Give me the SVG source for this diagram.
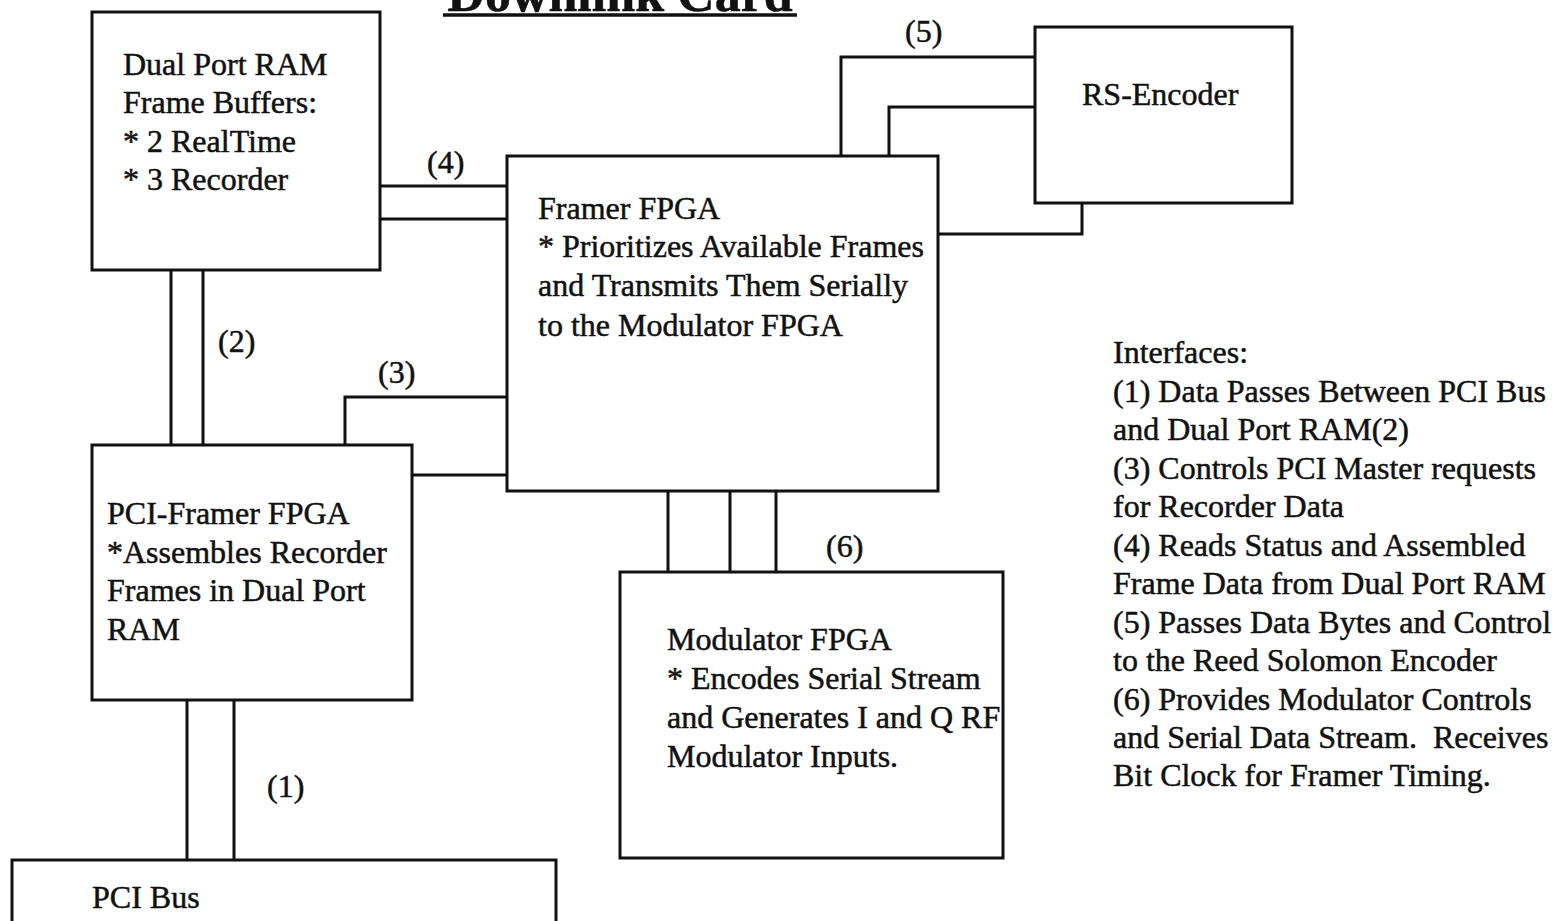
<svg xmlns="http://www.w3.org/2000/svg" width="1557" height="921" viewBox="0 0 1557 921">
<style>
.box{fill:none;stroke:#111;stroke-width:3}
.ln{fill:none;stroke:#111;stroke-width:3}
text{font-family:"Liberation Serif","Times New Roman",serif;fill:#111;font-size:32px;stroke:#111;stroke-width:0.5}
.title{font-size:52px;font-weight:bold}
</style>
<rect width="1557" height="921" fill="#fff"/>
<g id="title">
<text class="title" x="620" y="11" text-anchor="middle">Downlink Card</text>
<line x1="443" y1="15" x2="797" y2="15" stroke="#111" stroke-width="3.5"/>
</g>
<g id="connectors">
<path class="ln" d="M380,186 H507 M380,219 H507"/>
<path class="ln" d="M171,270 V445 M203,270 V445"/>
<path class="ln" d="M345,445 V397 H507 M412,475 H507"/>
<path class="ln" d="M841,156 V57 H1035 M889,156 V107 H1035 M938,234 H1082 V203"/>
<path class="ln" d="M187,700 V860 M234,700 V860"/>
<path class="ln" d="M668,491 V572 M730,491 V572 M776,491 V572"/>
<text x="427" y="173">(4)</text>
<text x="218" y="352">(2)</text>
<text x="378" y="383">(3)</text>
<text x="905" y="42">(5)</text>
<text x="267" y="797">(1)</text>
<text x="826" y="557">(6)</text>
</g>
<g id="dualport">
<rect class="box" x="92" y="12" width="288" height="258"/>
<text x="123" y="75">Dual Port RAM</text>
<text x="123" y="113">Frame Buffers:</text>
<text x="123" y="152">* 2 RealTime</text>
<text x="123" y="190">* 3 Recorder</text>
</g>
<g id="framer">
<rect class="box" x="507" y="156" width="431" height="335"/>
<text x="538" y="219">Framer FPGA</text>
<text x="538" y="257">* Prioritizes Available Frames</text>
<text x="538" y="296">and Transmits Them Serially</text>
<text x="538" y="336">to the Modulator FPGA</text>
</g>
<g id="rsencoder">
<rect class="box" x="1035" y="27" width="257" height="176"/>
<text x="1082" y="105">RS-Encoder</text>
</g>
<g id="pciframer">
<rect class="box" x="92" y="445" width="320" height="255"/>
<text x="107" y="524">PCI-Framer FPGA</text>
<text x="107" y="563">*Assembles Recorder</text>
<text x="107" y="601">Frames in Dual Port</text>
<text x="107" y="640">RAM</text>
</g>
<g id="modulator">
<rect class="box" x="620" y="572" width="383" height="286"/>
<text x="667" y="650">Modulator FPGA</text>
<text x="667" y="689">* Encodes Serial Stream</text>
<text x="667" y="728">and Generates I and Q RF</text>
<text x="667" y="767">Modulator Inputs.</text>
</g>
<g id="pcibus">
<rect class="box" x="12" y="860" width="544" height="80"/>
<text x="92" y="908">PCI Bus</text>
</g>
<g id="interfaces">
<text x="1113" y="363">Interfaces:</text>
<text x="1113" y="402">(1) Data Passes Between PCI Bus</text>
<text x="1113" y="440">and Dual Port RAM(2)</text>
<text x="1113" y="479">(3) Controls PCI Master requests</text>
<text x="1113" y="517">for Recorder Data</text>
<text x="1113" y="556">(4) Reads Status and Assembled</text>
<text x="1113" y="594">Frame Data from Dual Port RAM</text>
<text x="1113" y="633">(5) Passes Data Bytes and Control</text>
<text x="1113" y="671">to the Reed Solomon Encoder</text>
<text x="1113" y="710">(6) Provides Modulator Controls</text>
<text x="1113" y="748">and Serial Data Stream.&#160; Receives</text>
<text x="1113" y="786">Bit Clock for Framer Timing.</text>
</g>
</svg>
